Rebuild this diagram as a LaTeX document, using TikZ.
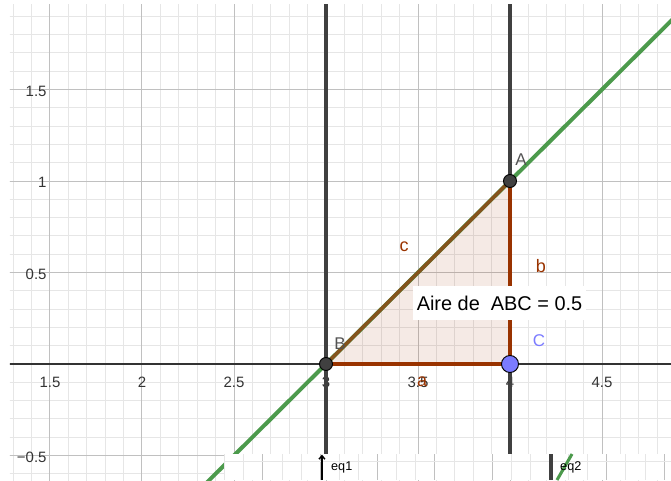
\documentclass[tikz,border=0pt]{standalone}
\usepackage{fontspec}
\setmainfont{Liberation Sans}
\usetikzlibrary{arrows.meta,positioning}
\definecolor{ggbgreen}{RGB}{76,154,76}
\definecolor{ggbbrown}{RGB}{153,51,0}
\definecolor{ggbside}{RGB}{133,83,28}
\definecolor{ggbdark}{RGB}{64,64,64}
\definecolor{ggbblue}{RGB}{123,123,255}
\definecolor{gridmaj}{RGB}{192,192,192}
\definecolor{gridmin}{RGB}{230,230,230}

\begin{document}
\begin{tikzpicture}[
  x=5.52cm, y=5.49cm,
  mingrid/.style={gridmin, line width=0.85pt},
  majgrid/.style={gridmaj, line width=0.85pt},
  tick/.style={text=black!80, font=\fontsize{12.8}{14}\selectfont, inner sep=1pt},
  ptlabel/.style={font=\fontsize{14.5}{16}\selectfont, inner sep=0pt},
  side/.style={text=ggbbrown, font=\fontsize{15.4}{17}\selectfont, inner sep=0pt},
  vline/.style={ggbdark, line width=3.4pt},
  seg/.style={ggbbrown, line width=3pt},
  dot/.style={circle, draw=black, line width=0.8pt, inner sep=0pt, minimum size=0.39cm}
]
\useasboundingbox (1.2283,-0.6339) rectangle (4.875,1.9891);
% grid of the view
\begin{scope}
\clip (1.2826,-0.6339) rectangle (4.875,1.9672);
\foreach \i in {12,...,49}
  \draw[mingrid] (\i/10,-0.7) -- (\i/10,2);
\foreach \j in {-7,...,20}
  \draw[mingrid] (1.2,\j/10) -- (4.9,\j/10);
\foreach \i in {1.5,2,...,4.5}
  \draw[majgrid] (\i,-0.7) -- (\i,2);
\foreach \j in {-0.5,0.5,1,1.5}
  \draw[majgrid] (1.2,\j) -- (4.9,\j);
% axis labels
\foreach \v [count=\k] in {1.5,2,2.5,3,3.5,4,4.5}
  \node[tick] (xl\k) at (\v,-0.098) {\v};
\foreach \v/\t [count=\k] in {1.5/1.5,1/1,0.5/0.5,-0.5/−0.5}
  \node[tick, anchor=east] (yl\k) at (1.489,\v-0.01) {\t};
\draw[black!80, line width=1.7pt] (1.2,0) -- (4.9,0);
% triangle ABC
\coordinate (B) at (3,0);
\coordinate (A) at (4,1);
\coordinate (C) at (4,0);
\fill[ggbbrown, opacity=0.1] (B) -- (C) -- (A) -- cycle;
\draw[vline] (3,-0.6339) -- (3,2);
\draw[vline] (4,-0.6339) -- (4,2);
\draw[ggbgreen, line width=3.4pt] (2.3,-0.7) -- (4.95,1.95);
\draw[seg] (B) -- (C) -- (A);
\draw[ggbside, line width=3pt] (B) -- (A);
\node[dot, fill=ggbdark] (ptA) at (A) {};
\node[dot, fill=ggbdark] (ptB) at (B) {};
\node[dot, fill=ggbblue, minimum size=0.51cm] (ptC) at (C) {};
\node[ptlabel, text=ggbdark!90] (lA) at (4.06,1.115) {A};
\node[ptlabel, text=ggbdark!90] (lB) at (3.076,0.109) {B};
\node[ptlabel, text=ggbblue] (lC) at (4.158,0.126) {C};
\node[side] (la) at (3.522,-0.098) {a};
\node[side] (lb) at (4.168,0.536) {b};
\node[side] (lc) at (3.424,0.639) {c};
\node[fill=white, text=black, minimum width=5.19cm, minimum height=1.02cm,
  font=\fontsize{17}{19}\selectfont] (area) at (3.943,0.333) {Aire de\ \ ABC = 0.5};
\end{scope}
% strip at the bottom
\fill[white] (2.451,-0.4918) rectangle (4.875,-0.6339);
\foreach \k in {-2,...,21}
  \draw[mingrid] (2.6576+0.1038*\k,-0.4918) -- (2.6576+0.1038*\k,-0.6339);
\foreach \k in {0,3,...,21}
  \draw[majgrid] (2.6576+0.1038*\k,-0.4918) -- (2.6576+0.1038*\k,-0.6339);
\draw[mingrid] (2.451,-0.535) -- (4.875,-0.535);
\coordinate (eqa) at (2.978,-0.6339);
\coordinate (eqb) at (4.2228,-0.6339);
\draw[black, line width=1.2pt, -{Straight Barb[length=3pt,width=5pt]}] (eqa) -- ++(0,0.139);
\node[anchor=west, inner sep=0pt, font=\fontsize{10.8}{12}\selectfont] (eq1) at (3.027,-0.563) {eq1};
\draw[ggbdark, line width=2.6pt] (eqb) -- ++(0,0.1421);
\draw[ggbgreen, line width=2.6pt] (4.2554,-0.6339) -- (4.337,-0.4918);
\node[anchor=west, inner sep=0pt, font=\fontsize{10.8}{12}\selectfont] (eq2) at (4.2717,-0.563) {eq2};
\end{tikzpicture}
\end{document}
